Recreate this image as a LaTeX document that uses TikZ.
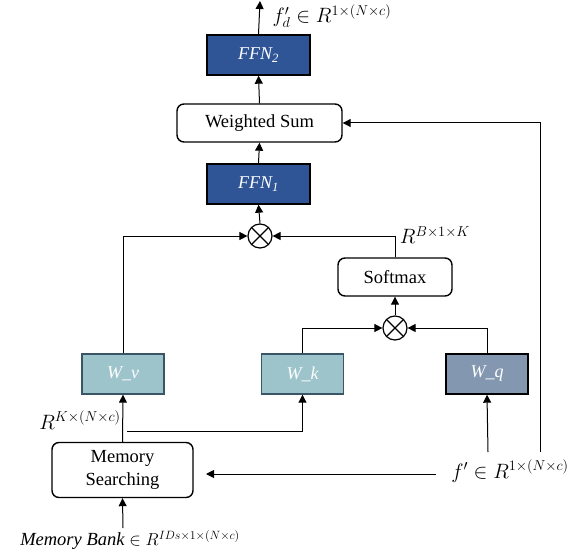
\documentclass[tikz,border=0pt]{standalone}
\usepackage{fontspec}
\setmainfont{Liberation Serif}
\usetikzlibrary{arrows.meta}
\definecolor{ffnblue}{HTML}{2F5597}
\definecolor{wteal}{HTML}{9DC3CB}
\definecolor{wtealb}{HTML}{3A5566}
\definecolor{wgray}{HTML}{8497B0}
\tikzset{
  arr/.style={line width=1pt,-{Triangle[length=8pt,width=8pt]}},
  plainbox/.style={draw, line width=1.4pt, rounded corners=7pt, fill=white, font=\fontsize{18.5}{22}\selectfont, align=center},
  ffnbox/.style={draw=black, line width=1.4pt, fill=ffnblue, text=white, font=\fontsize{18}{21}\selectfont\itshape, minimum width=103pt, minimum height=40pt},
  wbox/.style={draw=wtealb, line width=1.4pt, fill=wteal, text=white, font=\fontsize{18}{21}\selectfont\itshape, minimum width=82pt, minimum height=40pt},
  qbox/.style={draw=black, line width=1.4pt, fill=wgray, text=white, font=\fontsize{18}{21}\selectfont\itshape, minimum width=82pt, minimum height=40pt},
  mult/.style={draw, circle, line width=1.2pt, minimum size=24pt, inner sep=0pt,
    path picture={\draw[line width=1.2pt] (path picture bounding box.north west)--(path picture bounding box.south east)
      (path picture bounding box.north east)--(path picture bounding box.south west);}},
  lbl/.style={font=\fontsize{20}{23}\selectfont, inner sep=0pt}
}
\begin{document}
\begin{tikzpicture}[x=1pt,y=-1pt]
\useasboundingbox (0,0) rectangle (578,559);
% boxes
\node[ffnbox] (ffn2) at (258.5,55) {FFN\textsubscript{2}};
\node[plainbox, minimum width=165pt, minimum height=38pt] (ws) at (259.5,123) {Weighted Sum};
\node[ffnbox] (ffn1) at (258.5,184) {FFN\textsubscript{1}};
\node[mult] (m1) at (260,236) {};
\node[plainbox, minimum width=114pt, minimum height=38pt] (sm) at (395,277) {Softmax};
\node[mult] (m2) at (395,328) {};
\node[wbox] (wv) at (123,374) {W\_v};
\node[wbox] (wk) at (302.5,374) {W\_k};
\node[qbox] (wq) at (487,374) {W\_q};
\node[plainbox, minimum width=141pt, minimum height=55pt] (ms) at (122.5,470) {Memory\\[1pt]Searching};
% labels
\node[lbl] (lfd) at (332,16) {$f'_d \in R^{1\times(N\times c)}$};
\node[lbl] (lb) at (435,235) {$R^{B\times1\times K}$};
\node[lbl] (lk) at (80,420) {$R^{K\times(N\times c)}$};
\node[lbl] (lf) at (510,471) {$f' \in R^{1\times(N\times c)}$};
\node[lbl, font=\fontsize{18.5}{22}\selectfont] (lmb) at (130,540) {\textit{Memory Bank} $\in R^{IDs\times1\times(N\times c)}$};
% coordinates
\coordinate (top) at (260,1);
\coordinate (br) at (127,431);
\coordinate (fq) at (488,452);
\coordinate (fh) at (436,474);
\coordinate (msin) at (206,474);
\coordinate (fv) at (540,452);
\coordinate (mb) at (123,528);
% connectors
\draw[arr] (ffn2.north) -- (top);
\draw[arr] (ws.north) -- (ffn2.south);
\draw[arr] (ffn1.north) -- (ws.south);
\draw[arr] (m1.north) -- (ffn1.south);
\draw[arr] (wv.north) |- (m1.west);
\draw[arr] (sm.north) |- (m1.east);
\draw[arr] (m2.north) -- (sm.south);
\draw[arr] (wk.north) |- (m2.west);
\draw[arr] (wq.north) |- (m2.east);
\draw[arr] (ms.north) -- (wv.south);
\draw[arr] (br) -| (wk.south);
\draw[arr] (fq) -- (wq.south);
\draw[arr] (fh) -- (msin);
\draw[arr] (fv) |- (ws.east);
\draw[arr] (mb) -- (ms.south);
\end{tikzpicture}
\end{document}
